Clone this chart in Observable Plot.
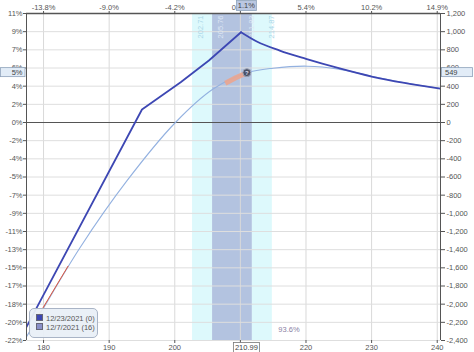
<!DOCTYPE html>
<html><head><meta charset="utf-8">
<script src="https://cdn.jsdelivr.net/npm/d3@7"></script>
<script src="https://cdn.jsdelivr.net/npm/@observablehq/plot@0.6"></script>
<style>
html,body{margin:0;padding:0;background:#fff;}
#wrap{position:relative;width:474px;height:352px;overflow:hidden;font-family:"Liberation Sans",Arial,sans-serif;}
.legend{position:absolute;left:29px;top:308px;width:69px;height:30px;border:1px solid #a9b4c6;border-radius:5px;background:rgba(233,239,247,0.95);font-size:7.5px;color:#555;box-sizing:border-box;}
.legend div{position:absolute;left:6px;white-space:nowrap;line-height:8px;}
.legend span{display:inline-block;width:5px;height:5px;margin-right:3px;vertical-align:0px;border:0.5px solid #667;}
</style></head><body><div id="wrap"></div>
<script>
// ---- data ----
const xDomain = [177.4, 240.5];
const yDomain = [-2400, 1200];
const xTicks = [180, 190, 200, 210, 220, 230, 240];
const topLabels = ["-13.8%", "-9.0%", "-4.2%", "0.6%", "5.4%", "10.2%", "14.9%"];
const yTicks = [1200, 1000, 800, 600, 400, 200, 0, -200, -400, -600, -800, -1000, -1200, -1400, -1600, -1800, -2000, -2200, -2400];
const leftLabels = ["11%", "9%", "7%", "6%", "4%", "2%", "0%", "-2%", "-4%", "-5%", "-7%", "-9%", "-11%", "-13%", "-15%", "-17%", "-18%", "-20%", "-22%"];

// expiration (12/23/2021) P/L: rising leg (straight) and falling leg (curved)
const expUpPrice = [177, 195, 200.9, 205.2, 210.1];
const expUpPL    = [-2305, 143, 444, 683, 994];
const expDownPrice = [210.1, 212.5, 216, 220, 225, 230, 235, 240.7];
const expDownPL    = [994, 892, 792, 701, 598, 506, 435, 371];
// T+0 (12/7/2021) P/L
const t0Price = [177, 179.5, 185.6, 192.75, 200.1, 205.9, 211, 215, 220.2, 225, 230, 235, 240.7];
const t0PL    = [-2408, -2103, -1373, -638, 0, 371, 547, 598, 620, 588, 510, 438, 374];
// highlighted pieces
const redPrice = [179.0, 183.85];
const redPL = [-2165, -1582];
const salmonPrice = [207.7, 209.3, 211.0];
const salmonPL = [432, 492, 547];
// std-dev bands
const bandEdges = [202.71, 205.76, 211.83, 214.87];
const bandLabels = ["202.71", "205.76", "211.83", "214.87"];
// current price marker
const markerPrice = 210.99;
const markerPL = 549;
const markerPctLabel = "5%";
const markerChgLabel = "1.1%";
const probLabel = "93.6%";
const legendItems = ["12/23/2021 (0)", "12/7/2021 (16)"];

const darkBlue = "#3d47b3", lightBlue = "#93b1e0";

const expUp = expUpPrice.map((p, i) => ({p, v: expUpPL[i]}));
const expDown = expDownPrice.map((p, i) => ({p, v: expDownPL[i]}));
const t0 = t0Price.map((p, i) => ({p, v: t0PL[i]}));
const red = redPrice.map((p, i) => ({p, v: redPL[i]}));
const salmon = salmonPrice.map((p, i) => ({p, v: salmonPL[i]}));
const bands = [
  {x1: bandEdges[0], x2: bandEdges[1], fill: "#ddf9fc"},
  {x1: bandEdges[1], x2: bandEdges[2], fill: "#b3c3e0"},
  {x1: bandEdges[2], x2: bandEdges[3], fill: "#ddf9fc"}
];
const bandLab = bandEdges.map((v, i) => ({v, label: bandLabels[i], c: (i === 0 || i === 3) ? "#a9d6e8" : "#dfe7f5"}));
const leftMap = new Map(yTicks.map((d, i) => [d, leftLabels[i]]));
const topMap = new Map(xTicks.map((d, i) => [d, topLabels[i]]));

const plot = Plot.plot({
  width: 474, height: 352,
  marginLeft: 26, marginRight: 34, marginTop: 13, marginBottom: 12,
  x: {domain: xDomain, axis: null},
  y: {domain: yDomain, axis: null},
  color: {type: "identity"},
  style: {fontFamily: "'Liberation Sans', Arial, sans-serif", fontSize: "7.5px", color: "#555", background: "#fff", overflow: "visible"},
  marks: [
    Plot.rect(bands, {x1: "x1", x2: "x2", fill: "fill"}),
    Plot.gridX(xTicks, {stroke: "#d9d9d9", strokeOpacity: 1}),
    Plot.gridY(yTicks, {stroke: "#dedede", strokeOpacity: 1}),
    Plot.ruleY([0], {stroke: "#555", strokeWidth: 1}),
    Plot.text(bandLab.filter((d, i) => i < 2), {x: "v", text: "label", fill: "c", frameAnchor: "top", rotate: -90, textAnchor: "end", dy: 2, dx: 5}),
    Plot.text(bandLab.filter((d, i) => i >= 2), {x: "v", text: "label", fill: "c", frameAnchor: "top", rotate: -90, textAnchor: "end", dy: 2, dx: -4}),
    Plot.line(t0, {x: "p", y: "v", stroke: lightBlue, strokeWidth: 1.1, curve: "catmull-rom", clip: true}),
    Plot.line(red, {x: "p", y: "v", stroke: "#e0553a", strokeWidth: 1, dx: -0.8, clip: true}),
    Plot.line(salmon, {x: "p", y: "v", stroke: "#eba58f", strokeWidth: 5, strokeOpacity: 0.9, strokeLinecap: "butt"}),
    Plot.line(expUp, {x: "p", y: "v", stroke: darkBlue, strokeWidth: 1.8, strokeLinejoin: "miter", clip: true}),
    Plot.line(expDown, {x: "p", y: "v", stroke: darkBlue, strokeWidth: 1.8, curve: "monotone-x", clip: true}),
    Plot.dot([{p: markerPrice, v: markerPL}], {x: "p", y: "v", r: 4, fill: "#4b5266", stroke: "#9aa2b4", strokeWidth: 1}),
    Plot.text([{p: markerPrice, v: markerPL}], {x: "p", y: "v", text: () => "?", fill: "#dde", fontSize: 6, fontWeight: "bold"}),
    Plot.text([probLabel], {x: bandEdges[3], text: d => d, frameAnchor: "bottom", textAnchor: "start", dx: 6, dy: -9, fill: "#8a7fa5"}),
    Plot.ruleX(xDomain, {stroke: "#555", strokeWidth: 1}),
    Plot.ruleY([yDomain[1]], {stroke: "#555", strokeWidth: 1.5}),
    Plot.axisY(yTicks, {anchor: "left", tickFormat: d => leftMap.get(d), tickSize: 3, tickPadding: 1, label: null}),
    Plot.axisY(yTicks, {anchor: "right", tickFormat: d => d.toLocaleString("en-US"), tickSize: 4, tickPadding: 2, label: null}),
    Plot.axisX(xTicks, {anchor: "top", tickFormat: d => topMap.get(d), tickSize: 3, tickPadding: 1, label: null}),
    Plot.axisX(xTicks, {anchor: "bottom", tickFormat: d => String(d), tickSize: 3, tickPadding: 1, label: null})
  ]
});

const wrap = document.getElementById("wrap");
wrap.appendChild(plot);

// crosshair value boxes positioned through the plot's scales
const svg = d3.select(plot);
const X = plot.scale("x"), Y = plot.scale("y");
const cx = X.apply(markerPrice), cy = Y.apply(markerPL);
function box(x, y, w, h, fill, stroke, text, anchor, tx) {
  const g = svg.append("g");
  g.append("rect").attr("x", x).attr("y", y).attr("width", w).attr("height", h)
    .attr("fill", fill).attr("stroke", stroke).attr("stroke-width", 0.8);
  g.append("text").attr("x", tx).attr("y", y + h / 2).attr("dy", "0.35em")
    .attr("text-anchor", anchor).attr("fill", "#444").attr("font-size", "7.5px").text(text);
}
box(0.5, cy - 4.5, 24.5, 9, "#e2ecf7", "#8ea2ba", markerPctLabel, "end", 22.5);
box(441.5, cy - 4.5, 31, 9, "#e2ecf7", "#8ea2ba", String(markerPL), "start", 445);
box(cx - 13, 342.5, 26, 10, "#fff", "#777", markerPrice.toFixed(2), "middle", cx);
box(cx - 10, 0.5, 20, 10, "#bac7e1", "#8ea2ba", markerChgLabel, "middle", cx);

// legend
const lg = document.createElement("div");
lg.className = "legend";
const cols = [darkBlue, "#8a90c8"];
legendItems.forEach((t, i) => {
  const r = document.createElement("div");
  r.style.top = (5 + i * 9) + "px";
  r.innerHTML = `<span style="background:${cols[i]}"></span>${t}`;
  lg.appendChild(r);
});
wrap.appendChild(lg);
</script>
</body></html>
